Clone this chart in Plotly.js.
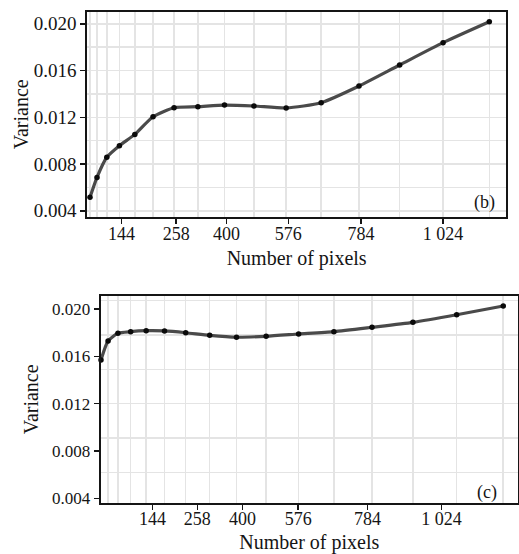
<!DOCTYPE html>
<html><head><meta charset="utf-8">
<script src="https://cdn.plot.ly/plotly-3.0.1.min.js"></script>
<style>html,body{margin:0;padding:0;background:#fff}#chart{width:519px;height:554px}</style>
</head><body><div id="chart"></div>
<script>
// Panel (b)
const pixelsB = [16,36,64,100,144,196,256,324,400,484,576,676,784,900,1024,1156];
const varianceB = [0.00515,0.00686,0.00858,0.00957,0.01054,0.01205,0.01282,0.01291,0.01305,0.01297,0.01280,0.01325,0.01468,0.01648,0.01839,0.02018];
// Panel (c)
const pixelsC = [16,36,64,100,144,196,256,324,400,484,576,676,784,900,1024,1156];
const varianceC = [0.01569,0.01729,0.01794,0.01808,0.01816,0.01814,0.01799,0.01777,0.01761,0.01769,0.01788,0.01808,0.01845,0.01887,0.01951,0.02025];
// Tick labels
const tickTextX = ["144","258","400","576","784","1 024"];
const tickValsB = [106,262,406,582,790,1024];
const tickValsC = [162,289,417,575,771,981];
const tickTextY = ["0.004","0.008","0.012","0.016","0.020"];
const tickValsY = [0.004,0.008,0.012,0.016,0.020];
const panelLabels = ["(b)","(c)"];

const serif = 'Liberation Serif, Times New Roman, serif';
const ink = '#151515';
const gridC = '#e4e4e4';

function lineTrace(x, y, xa, ya){
  return {x:x, y:y, xaxis:xa, yaxis:ya, type:'scatter', mode:'lines+markers',
    line:{color:'#4a4a4a', width:3.2, shape:'spline', smoothing:0.6},
    marker:{color:'#0a0a0a', size:5.5}, cliponaxis:false, hoverinfo:'skip'};
}

const xCommon = {ticks:'outside', ticklen:5, tickwidth:1.5, tickcolor:ink,
  showline:true, linecolor:ink, linewidth:2, mirror:true, showgrid:false, zeroline:false,
  ticklabelstandoff:-6,
  tickmode:'array', ticktext:tickTextX, tickfont:{family:serif, size:18, color:ink}};
const yCommon = {ticks:'outside', ticklen:5, tickwidth:1.5, tickcolor:ink,
  showline:true, linecolor:ink, linewidth:2, mirror:true, zeroline:false,
  tickmode:'array', tickvals:tickValsY, ticktext:tickTextY};

const layout = {
  width:519, height:554, margin:{l:0,r:0,t:0,b:30},
  paper_bgcolor:'#fff', plot_bgcolor:'#fff', showlegend:false,
  font:{family:serif, color:ink},
  xaxis: Object.assign({}, xCommon, {domain:[0.1682,0.9750], range:[8.3,1203.7], anchor:'y',
    tickvals:tickValsB,
    minor:{tickvals:pixelsB, showgrid:true, gridcolor:gridC, gridwidth:1.5, ticks:''},
    title:{text:'Number of pixels', font:{family:serif, size:20, color:ink}, standoff:8}}),
  yaxis: Object.assign({}, yCommon, {domain:[0.5859,0.9777], range:[0.00347,0.02104], anchor:'x',
    showgrid:true, gridcolor:gridC, gridwidth:1.5,
    tickfont:{family:serif, size:19, color:ink},
    minor:{tick0:0.004, dtick:0.002, showgrid:true, gridcolor:gridC, gridwidth:1.5, ticks:''},
    title:{text:'Variance', font:{family:serif, size:20, color:ink}, standoff:0}}),
  xaxis2: Object.assign({}, xCommon, {domain:[0.194,0.998], range:[15.1,1197.7], anchor:'y2',
    tickvals:tickValsC,
    minor:{tickvals:pixelsC, showgrid:true, gridcolor:gridC, gridwidth:1.5, ticks:''},
    title:{text:'Number of pixels', font:{family:serif, size:20, color:ink}, standoff:16}}),
  yaxis2: Object.assign({}, yCommon, {domain:[0.04065,0.4351], range:[0.00364,0.02109], anchor:'x2',
    showgrid:false,
    tickfont:{family:serif, size:17, color:ink},
    minor:{tick0:0.012, dtick:0.0029, showgrid:true, gridcolor:gridC, gridwidth:1.5, ticks:''},
    title:{text:'Variance', font:{family:serif, size:20, color:ink}, standoff:8}}),
  annotations:[
    {text:panelLabels[0], xref:'paper', yref:'paper', x:0.9326, y:0.6126, showarrow:false,
      xanchor:'center', yanchor:'middle', font:{family:serif, size:18, color:ink}},
    {text:panelLabels[1], xref:'paper', yref:'paper', x:0.9377, y:0.0592, showarrow:false,
      xanchor:'center', yanchor:'middle', font:{family:serif, size:18, color:ink}}
  ]
};

Plotly.newPlot('chart', [lineTrace(pixelsB, varianceB, 'x', 'y'), lineTrace(pixelsC, varianceC, 'x2', 'y2')], layout, {displayModeBar:false, staticPlot:true});
</script></body></html>
